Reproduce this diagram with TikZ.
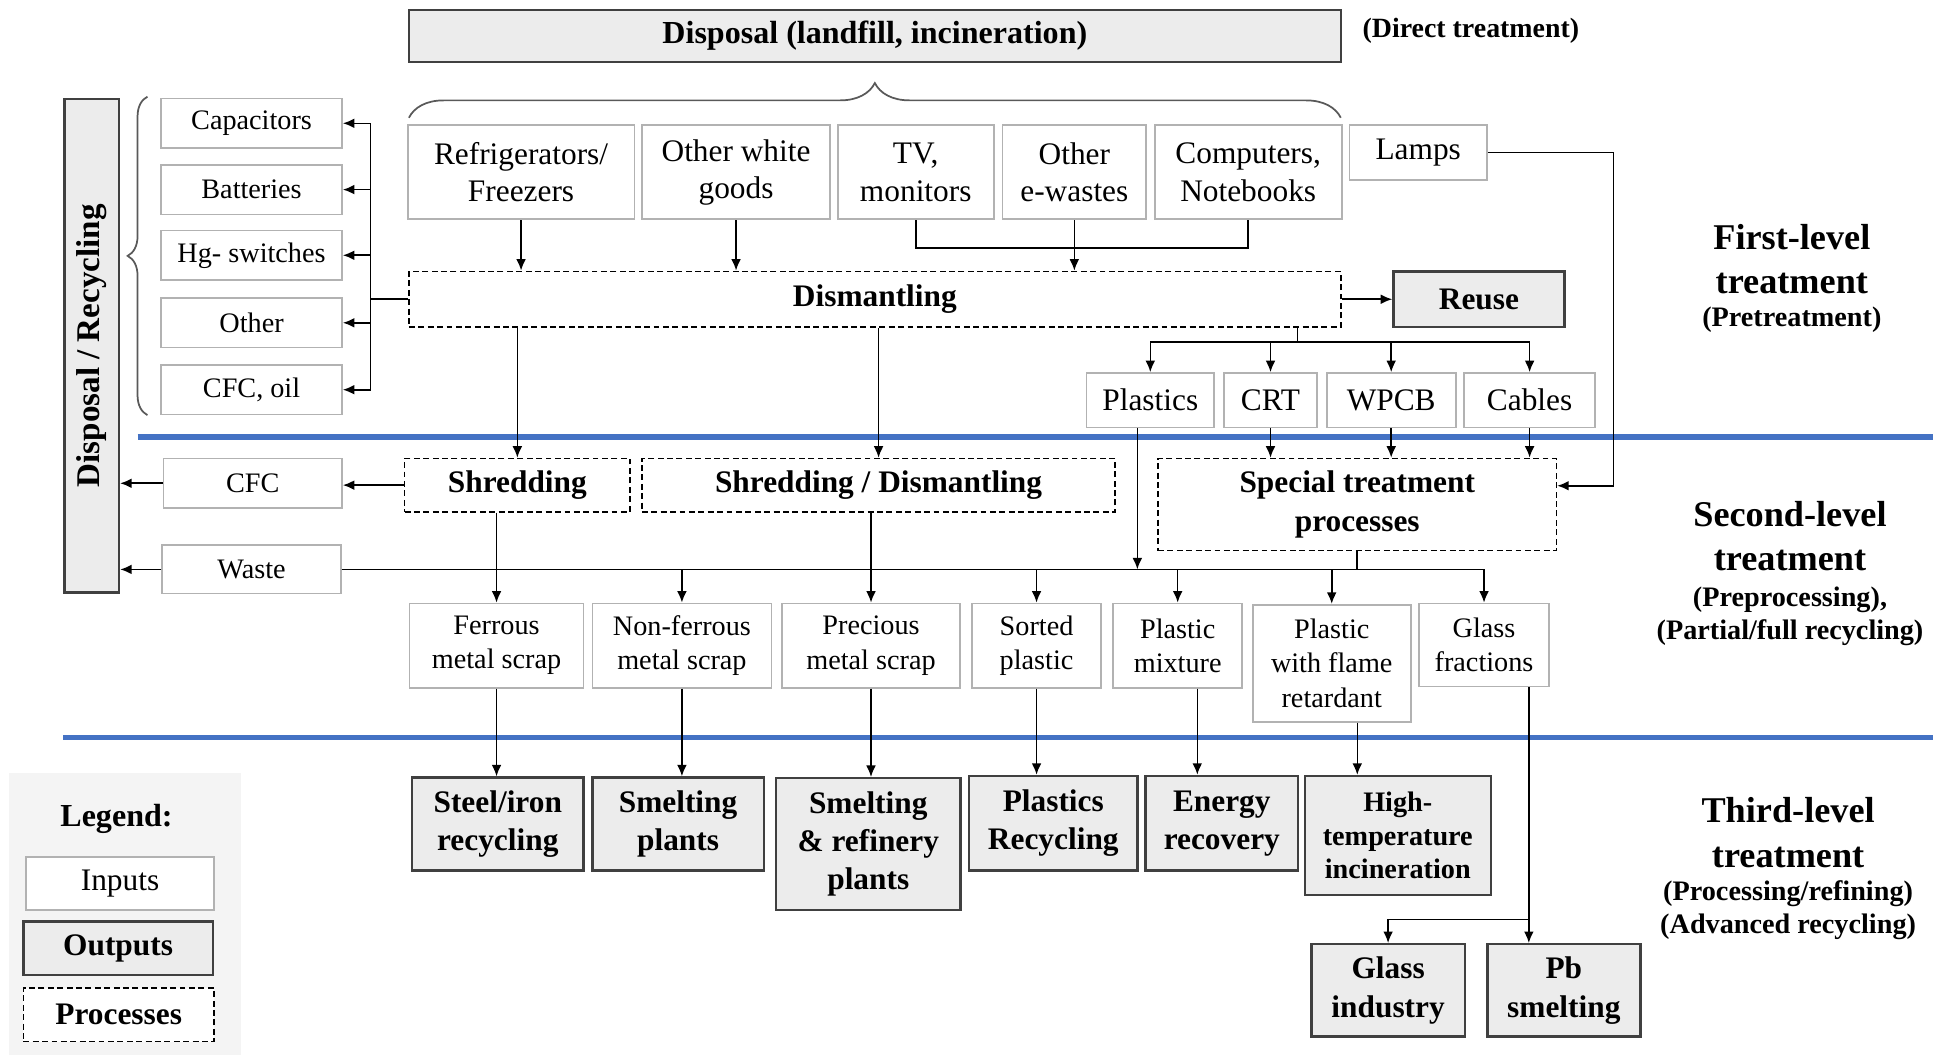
\documentclass[tikz,border=0pt]{standalone}
\usepackage{fontspec}
\setmainfont{Liberation Serif}
\usepackage{tikz}
\usetikzlibrary{arrows.meta,calc,decorations.pathreplacing}

\definecolor{sepblue}{RGB}{68,114,196}
\definecolor{boxgray}{RGB}{236,236,236}

\begin{document}
\begin{tikzpicture}[x=0.125mm, y=-0.125mm,
		sz/.style 2 args={minimum width=#1*0.125mm, minimum height=#2*0.125mm},
		input_style/.style={draw=black!30, fill=white, line width=0.5pt, inner sep=1pt, align=center, font=\fontsize{9}{10.7}\selectfont},
		small_style/.style={input_style, font=\fontsize{8.1}{9.8}\selectfont},
		output_style/.style={draw=black!75, fill=boxgray, line width=0.7pt, inner sep=1pt, align=center, font=\bfseries\fontsize{9}{11}\selectfont},
		process_style/.style={draw=black, dash pattern=on 1.7pt off 1pt, line width=0.45pt, fill=white, inner sep=1pt, align=center, font=\bfseries\fontsize{9}{11}\selectfont},
		edge_style/.style={draw=black, line width=0.45pt},
		arrow_style/.style={edge_style, -{Latex[length=3.3pt,width=2.8pt]}},
		brace_style/.style={draw=black!65, line width=0.5pt, decorate},
		level_style/.style={align=center, font=\bfseries\fontsize{10.4}{12.8}\selectfont},
		sub_style/.style={align=center, font=\bfseries\fontsize{8.1}{9.6}\selectfont},
		sep_style/.style={draw=sepblue, line width=1.6pt}]

		\useasboundingbox (0,0) rectangle (1568,851);

		% level separators
		\draw[sep_style] (111,352.7) -- (1560,352.7);
		\draw[sep_style] (51,595.3) -- (1560,595.3);

		% direct treatment
		\node[output_style, sz={752}{42}, font=\bfseries\fontsize{9.2}{11}\selectfont] (disp) at (706,29) {Disposal (landfill, incineration)};
		\node[sub_style, font=\bfseries\fontsize{8}{9.6}\selectfont] (direct) at (1187,25) {(Direct treatment)};
		\draw[brace_style, decoration={brace, amplitude=3.5mm}] (330,95) -- (1082,95);

		% left column
		\node[output_style, rotate=90, sz={398}{44}, font=\bfseries\fontsize{9.5}{11}\selectfont] (dr) at (74,279) {Disposal / Recycling};
		\node[small_style, sz={146}{40}] (cap) at (203,99.5) {Capacitors};
		\node[small_style, sz={146}{40}] (bat) at (203,153) {Batteries};
		\node[small_style, sz={146}{40}] (hg) at (203,206) {Hg- switches};
		\node[small_style, sz={146}{40}] (othr) at (203,260.5) {Other};
		\node[small_style, sz={146}{40}] (oil) at (203,314.5) {CFC, oil};
		\draw[brace_style, decoration={brace, amplitude=2mm}] (119,335) -- (119,78);

		% inputs
		\node[input_style, sz={183}{76}] (fridge) at (420.5,139) {Refrigerators/\\Freezers};
		\node[input_style, sz={152}{76}] (white) at (594,139) {Other white\\goods};
		\node[input_style, sz={126}{76}] (tv) at (739,139) {TV,\\monitors};
		\node[input_style, sz={116}{76}] (oth) at (867,139) {Other\\e-wastes};
		\node[input_style, sz={151}{76}] (comp) at (1007.3,139) {Computers,\\Notebooks};
		\node[input_style, sz={111}{44}] (lamps) at (1144.5,123) {Lamps};

		% first level
		\node[process_style, sz={752}{45}] (dism) at (706,241.5) {Dismantling};
		\node[output_style, sz={138}{45}] (reuse) at (1193.5,241.5) {Reuse};
		\node[input_style, sz={103}{44}] (plast) at (928.3,323) {Plastics};
		\node[input_style, sz={75.5}{44}] (crt) at (1025.3,323) {CRT};
		\node[input_style, sz={104}{44}] (wpcb) at (1122.7,323) {WPCB};
		\node[input_style, sz={106}{44}] (cables) at (1234.4,323) {Cables};

		% second level
		\node[process_style, sz={182}{43}] (shred) at (417.5,391.5) {Shredding};
		\node[process_style, sz={382}{43}] (shdis) at (709,391.5) {Shredding / Dismantling};
		\node[process_style, sz={321.5}{74.4}] (spec) at (1095.3,407.2) {Special treatment\\processes};
		\node[small_style, sz={144}{40}] (cfc) at (204,390) {CFC};
		\node[small_style, sz={144}{39}] (waste) at (203,459.5) {Waste};

		\node[small_style, sz={140.5}{68}] (ferr) at (400.7,521) {Ferrous\\metal scrap};
		\node[small_style, sz={144.5}{68}] (nonf) at (550.3,521) {Non-ferrous\\metal scrap};
		\node[small_style, sz={144}{68}] (prec) at (702.9,521) {Precious\\metal scrap};
		\node[small_style, sz={104}{68}] (sorted) at (836.5,521) {Sorted\\plastic};
		\node[small_style, sz={104}{68}] (pmix) at (950.4,521) {Plastic\\mixture};
		\node[small_style, sz={127.5}{94.4}] (flame) at (1074.7,535.2) {Plastic\\with flame\\retardant};
		\node[small_style, sz={105}{67}] (glassf) at (1197.6,520.5) {Glass\\fractions};

		% third level
		\node[output_style, sz={138.4}{75}] (steel) at (401.7,665) {Steel/iron\\recycling};
		\node[output_style, sz={138.4}{75}] (smelt) at (547.2,665) {Smelting\\plants};
		\node[output_style, sz={149}{106.4}] (smref) at (700.7,681.2) {Smelting\\\& refinery\\plants};
		\node[output_style, sz={136}{76.4}] (plrec) at (850,664.4) {Plastics\\Recycling};
		\node[output_style, sz={123}{76.4}] (energy) at (986,664.4) {Energy\\recovery};
		\node[output_style, sz={150}{96}, font=\bfseries\fontsize{8.1}{9.6}\selectfont] (hti) at (1128,674.3) {High-\\temperature\\incineration};
		\node[output_style, sz={123.7}{74.6}] (glassi) at (1120.2,799.3) {Glass\\industry};
		\node[output_style, sz={123.4}{74.6}] (pb) at (1262,799.3) {Pb\\smelting};

		% legend
		\fill[gray!9] (7,623.5) rectangle (194.5,851);
		\node[font=\bfseries\fontsize{9.2}{11}\selectfont] (leg) at (94,661) {Legend:};
		\node[input_style, sz={152}{43}] (lin) at (96.9,712.8) {Inputs};
		\node[output_style, sz={153}{43}] (lout) at (95.3,765.3) {Outputs};
		\node[process_style, sz={154}{43}] (lproc) at (95.8,819) {Processes};

		% level headings
		\node[level_style] (l1) at (1446,209) {First-level\\treatment};
		\node[sub_style] (l1s) at (1446,258) {(Pretreatment)};
		\node[level_style] (l2) at (1444.5,432.5) {Second-level\\treatment};
		\node[sub_style] (l2s) at (1444.5,497.5) {(Preprocessing),\\(Partial/full recycling)};
		\node[level_style] (l3) at (1443,672) {Third-level\\treatment};
		\node[sub_style] (l3s) at (1443,734.5) {(Processing/refining)\\(Advanced recycling)};

		% connectors, first level
		\draw[arrow_style] (fridge.south) -- (fridge.south |- dism.north);
		\draw[arrow_style] (white.south) -- (white.south |- dism.north);
		\coordinate (mrg) at (867,200);
		\draw[edge_style] (tv.south) |- (mrg) -| (comp.south);
		\draw[arrow_style] (oth.south) -- (oth.south |- dism.north);
		\draw[arrow_style] (dism.east) -- (reuse.west);
		\coordinate (lbus) at (299,241.5);
		\draw[edge_style] (dism.west) -- (lbus);
		\draw[edge_style] (cap.east -| lbus) -- (oil.east -| lbus);
		\foreach \n in {cap,bat,hg,othr,oil}
			\draw[arrow_style] (\n.east -| lbus) -- (\n.east);
		\coordinate (dsplit) at (1047,276);
		\draw[edge_style] (dsplit |- dism.south) -- (dsplit);
		\draw[edge_style] (plast.north |- dsplit) -- (cables.north |- dsplit);
		\foreach \n in {plast,crt,wpcb,cables}
			\draw[arrow_style] (\n.north |- dsplit) -- (\n.north);

		% connectors, second level
		\draw[arrow_style] (dism.south -| shred.north) -- (shred.north);
		\draw[arrow_style] (dism.south -| shdis.north) -- (shdis.north);
		\foreach \n in {crt,wpcb,cables}
			\draw[arrow_style] (\n.south) -- (\n.south |- spec.north);
		\coordinate (lampc) at (1302,392);
		\draw[arrow_style] (lamps.east) -| (lampc) -- (lampc -| spec.east);
		\draw[arrow_style] (shred.west) -- (shred.west -| cfc.east);
		\draw[arrow_style] (cfc.west) -- (cfc.west -| dr.south);
		\draw[arrow_style] (waste.west) -- (waste.west -| dr.south);
		\draw[edge_style] (waste.east) -- (waste.east -| glassf.north);
		\draw[arrow_style] (shred.south -| ferr.north) -- (ferr.north);
		\draw[arrow_style] (shdis.south -| prec.north) -- (prec.north);
		\foreach \n in {nonf,sorted,pmix,flame,glassf}
			\draw[arrow_style] (waste.east -| \n.north) -- (\n.north);
		\draw[arrow_style] ($(plast.south)!.2!(plast.south west)$) coordinate (pl) -- (pl |- waste.east);
		\draw[edge_style] (spec.south) -- (spec.south |- waste.east);

		% connectors, third level
		\draw[arrow_style] (ferr.south) -- (ferr.south |- steel.north);
		\draw[arrow_style] (nonf.south) -- (nonf.south |- smelt.north);
		\draw[arrow_style] (prec.south) -- (prec.south |- smref.north);
		\draw[arrow_style] (sorted.south) -- (sorted.south |- plrec.north);
		\draw[arrow_style] ($(pmix.south)!.3!(pmix.south east)$) coordinate (pm) -- (pm |- energy.north);
		\draw[arrow_style] ($(flame.south)!.32!(flame.south east)$) coordinate (fl) -- (fl |- hti.north);
		\draw[arrow_style] ($(glassf.south)!.68!(glassf.south east)$) coordinate (gf) -- (gf |- pb.north);
		\coordinate (gsplit) at ($(hti.south)!.5!(glassi.north)$);
		\draw[arrow_style] (gf |- gsplit) -| (glassi.north);

\end{tikzpicture}
\end{document}
